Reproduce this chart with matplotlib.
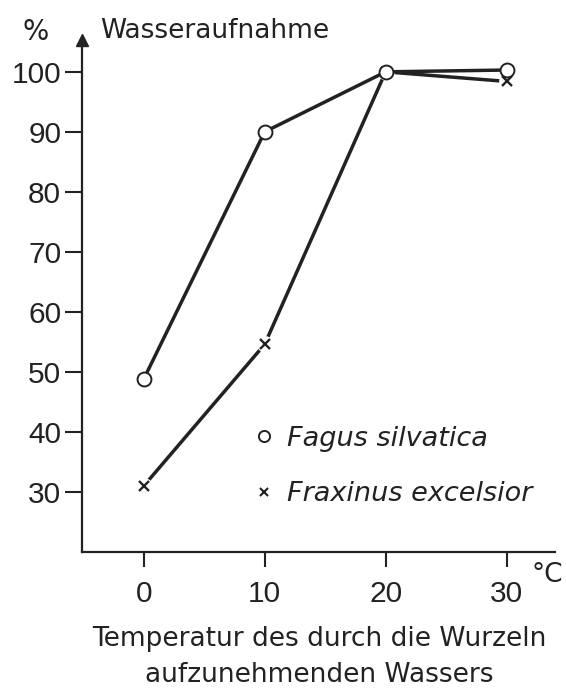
import matplotlib.pyplot as plt
from matplotlib.lines import Line2D

# Temperatur des Wassers (°C)
temperatur = [0, 10, 20, 30]
# Wasseraufnahme in %
fagus = [48.8, 90.0, 100.0, 100.3]
fraxinus = [31.0, 54.6, 100.0, 98.4]

x_ticks = [0, 10, 20, 30]
y_ticks = [30, 40, 50, 60, 70, 80, 90, 100]

ink = '#222222'
plt.rcParams['font.family'] = ['Liberation Sans', 'DejaVu Sans']
txt = ['DejaVu Sans']

fig = plt.figure(figsize=(5.66, 6.9), dpi=100)
ax = fig.add_axes([82/566, 0.2, (555-82)/566, 0.742])

# Fagus: offene Kreise
ax.plot(temperatur, fagus, color=ink, lw=2.5, marker='o', ms=10,
        mfc='white', mec=ink, mew=1.4, zorder=3)
# Fraxinus: Kreuze mit kleiner Lücke zur Linie
ax.plot(temperatur, fraxinus, color=ink, lw=2.5, zorder=2)
ax.plot(temperatur, fraxinus, ls='none', marker='o', ms=12, mfc='white',
        mec='none', zorder=2.5)
ax.plot(temperatur, fraxinus, ls='none', marker='x', ms=7, mec=ink,
        mew=1.7, zorder=2.6)

ax.set_xlim(-5.1, 34)
ax.set_ylim(20, 105.3)
ax.set_xticks(x_ticks)
ax.set_yticks(y_ticks)
ax.set_xticklabels([str(v) for v in x_ticks])
ax.set_yticklabels([str(v) for v in y_ticks])
ax.tick_params(axis='both', direction='out', width=1.5,
               color=ink, labelcolor=ink, labelsize=21.5)
ax.tick_params(axis='x', length=11, pad=9)
ax.tick_params(axis='y', length=12, pad=3)
for lab in ax.get_xticklabels() + ax.get_yticklabels():
    lab.set_family('Liberation Sans')

for s in ['top', 'right']:
    ax.spines[s].set_visible(False)
for s in ['left', 'bottom']:
    ax.spines[s].set_color(ink)
    ax.spines[s].set_linewidth(1.6)

# Pfeil am Ende der y-Achse
ax.plot([0], [1], marker='^', ms=8, color=ink, transform=ax.transAxes,
        clip_on=False)

fig.text(36/566, 1-32/690, '%', fontsize=20, color=ink, ha='center',
         va='center', family=txt)
fig.text(100/566, 1-31/690, 'Wasseraufnahme', fontsize=19, color=ink,
         ha='left', va='center', family=txt)
fig.text(531/566, 1-575/690, '°C', fontsize=19, color=ink, ha='left',
         va='center', family=txt)

handles = [
    Line2D([], [], ls='none', marker='o', ms=8, mfc='white', mec=ink, mew=1.4),
    Line2D([], [], ls='none', marker='x', ms=6, mec=ink, mew=1.5),
]
leg = ax.legend(handles, ['Fagus silvatica', 'Fraxinus excelsior'],
                loc='upper left', bbox_to_anchor=(0.345, 0.268),
                frameon=False, handlelength=0.6, handletextpad=0.55,
                labelspacing=1.1, borderaxespad=0,
                prop={'family': txt, 'style': 'italic', 'size': 19.5})
for t in leg.get_texts():
    t.set_color(ink)

fig.text(319/566, 1-657/690,
         'Temperatur des durch die Wurzeln\naufzunehmenden Wassers',
         fontsize=19, color=ink, ha='center', va='center', linespacing=1.55,
         family=txt)

fig.savefig('out.png', dpi=100)
